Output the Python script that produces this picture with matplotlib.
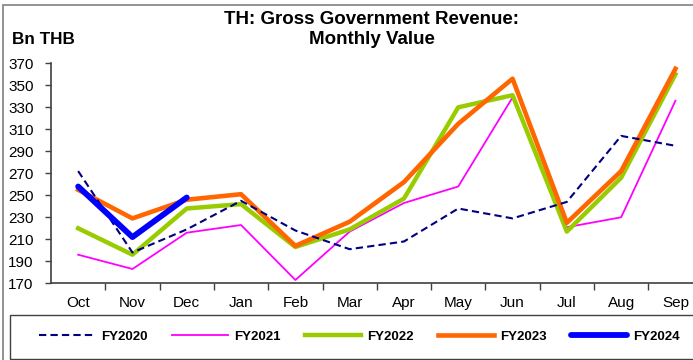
import matplotlib
matplotlib.use("Agg")
import matplotlib.pyplot as plt
from matplotlib.patches import Rectangle

plt.rcParams['font.family'] = ['Liberation Sans', 'DejaVu Sans']

months = ["Oct", "Nov", "Dec", "Jan", "Feb", "Mar", "Apr", "May", "Jun", "Jul", "Aug", "Sep"]
fy2020 = [272, 198, 219, 245, 218, 201, 208, 238, 229, 244, 304, 295]
fy2021 = [196, 183, 216, 223, 173, 217, 243, 258, 339, 221, 230, 336]
fy2022 = [220, 196, 238, 242, 203, 219, 247, 330, 341, 217, 266, 360]
fy2023 = [255, 229, 246, 251, 204, 226, 262, 315, 356, 225, 272, 365]
fy2024 = [258, 212, 248]
yticks = list(range(170, 371, 20))

W, H = 693, 360
fig = plt.figure(figsize=(W / 100, H / 100), dpi=100)

# outer frame
fig.patches.append(Rectangle((3 / W, -0.05), 1, (H - 5) / H + 0.05, transform=fig.transFigure,
                             fill=False, edgecolor="#808080", linewidth=1.2))

ax = fig.add_axes([51 / W, (H - 283.3) / H, (W - 51) / W, 220 / H])
x = range(len(months))
ax.plot(x, fy2020, color="#000080", lw=1.5, ls=(0, (3.5, 2)), label="FY2020", zorder=3)
ax.plot(x, fy2021, color="#FF00FF", lw=1.3, label="FY2021", zorder=2)
ax.plot(x, fy2022, color="#99CC00", lw=3.2, label="FY2022", zorder=2)
ax.plot(x, fy2023, color="#FF6600", lw=3.3, label="FY2023", zorder=2)
ax.plot(range(len(fy2024)), fy2024, color="#0000FF", lw=4.2, label="FY2024",
        solid_capstyle="round", zorder=4)

ax.set_ylim(170, 370)
ax.set_yticks(yticks)
ax.set_xlim(-0.5, (W - 51) / 54.3 - 0.5)
ax.set_xticks([i - 0.5 for i in range(1, 12)])
ax.set_xticklabels([])
ax.set_xticks(list(x), minor=True)
ax.set_xticklabels(months, minor=True)
ax.tick_params(axis="x", which="major", length=5, width=1, color="#404040", direction="out")
ax.tick_params(axis="x", which="minor", length=0, pad=9, labelsize=11)
ax.tick_params(axis="y", length=4, width=1, color="#404040", labelsize=11, pad=8.5)
for s in ("top", "right"):
    ax.spines[s].set_visible(False)
for s in ("left", "bottom"):
    ax.spines[s].set_color("#404040")
    ax.spines[s].set_linewidth(1.2)
ax.set_facecolor("none")

fig.text(372 / W, 1 - 29.5 / H, "TH: Gross Government Revenue:\nMonthly Value",
         ha="center", va="center", fontsize=13.5, fontweight="bold", linespacing=1.2)
fig.text(12 / W, 1 - 39.5 / H, "Bn THB", ha="left", va="center",
         fontsize=12.3, fontweight="bold")

# legend box
fig.patches.append(Rectangle((10 / W, (H - 359) / H), 1, 44 / H,
                             transform=fig.transFigure, fill=False,
                             edgecolor="#404040", linewidth=1.0))
handles, labels = ax.get_legend_handles_labels()
leg = fig.legend(handles, labels, loc="center", ncol=5,
                 bbox_to_anchor=(359.5 / W, (H - 336.7) / H), frameon=False,
                 handlelength=4.25, columnspacing=1.8, handletextpad=0.5,
                 prop={"weight": "bold", "size": 9.5})

fig.savefig("out.png", dpi=100)
